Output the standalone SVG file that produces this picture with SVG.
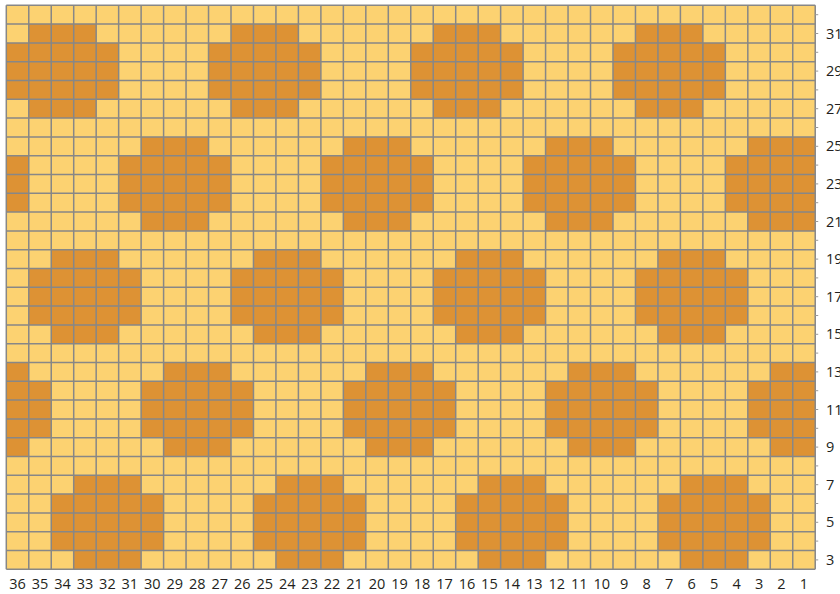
<svg xmlns="http://www.w3.org/2000/svg" xmlns:xlink="http://www.w3.org/1999/xlink" width="840" height="594" viewBox="0 0 840 594">
<style>
.light{fill:#FCD271}
.dark{fill:#DD9234}
.grid{fill:none;stroke:#878787;stroke-width:1.5}
.tick{fill:none;stroke:#9a9a9a;stroke-width:1}
.lbl{font-family:"Open Sans","Liberation Sans",sans-serif;font-size:14.5px;fill:#231F20}
.col{text-anchor:middle}
</style>
<defs>
<path id="m" d="M22.47 0H89.88V18.8H112.35V75.2H89.88V94H22.47V75.2H0V18.8H22.47Z"/>
<clipPath id="gc"><rect x="6.3" y="5.3" width="808.92" height="564"/></clipPath>
</defs>
<rect width="840" height="594" fill="#FFFFFF"/>
<g id="chart">
<rect class="light" x="6.3" y="5.3" width="808.92" height="564"/>
<g id="motifs" class="dark" clip-path="url(#gc)">
<use href="#m" x="6.3" y="24.1"/>
<use href="#m" x="208.53" y="24.1"/>
<use href="#m" x="410.76" y="24.1"/>
<use href="#m" x="612.99" y="24.1"/>
<use href="#m" x="-83.58" y="136.9"/>
<use href="#m" x="118.65" y="136.9"/>
<use href="#m" x="320.88" y="136.9"/>
<use href="#m" x="523.11" y="136.9"/>
<use href="#m" x="725.34" y="136.9"/>
<use href="#m" x="28.77" y="249.7"/>
<use href="#m" x="231" y="249.7"/>
<use href="#m" x="433.23" y="249.7"/>
<use href="#m" x="635.46" y="249.7"/>
<use href="#m" x="-61.11" y="362.5"/>
<use href="#m" x="141.12" y="362.5"/>
<use href="#m" x="343.35" y="362.5"/>
<use href="#m" x="545.58" y="362.5"/>
<use href="#m" x="747.81" y="362.5"/>
<use href="#m" x="51.24" y="475.3"/>
<use href="#m" x="253.47" y="475.3"/>
<use href="#m" x="455.7" y="475.3"/>
<use href="#m" x="657.93" y="475.3"/>
</g>
<path id="hlines" class="grid" d="M6.3 5.3H815.22M6.3 24.1H815.22M6.3 42.9H815.22M6.3 61.7H815.22M6.3 80.5H815.22M6.3 99.3H815.22M6.3 118.1H815.22M6.3 136.9H815.22M6.3 155.7H815.22M6.3 174.5H815.22M6.3 193.3H815.22M6.3 212.1H815.22M6.3 230.9H815.22M6.3 249.7H815.22M6.3 268.5H815.22M6.3 287.3H815.22M6.3 306.1H815.22M6.3 324.9H815.22M6.3 343.7H815.22M6.3 362.5H815.22M6.3 381.3H815.22M6.3 400.1H815.22M6.3 418.9H815.22M6.3 437.7H815.22M6.3 456.5H815.22M6.3 475.3H815.22M6.3 494.1H815.22M6.3 512.9H815.22M6.3 531.7H815.22M6.3 550.5H815.22M6.3 569.3H815.22"/>
<path id="vlines" class="grid" d="M6.3 5.3V569.3M28.77 5.3V569.3M51.24 5.3V569.3M73.71 5.3V569.3M96.18 5.3V569.3M118.65 5.3V569.3M141.12 5.3V569.3M163.59 5.3V569.3M186.06 5.3V569.3M208.53 5.3V569.3M231 5.3V569.3M253.47 5.3V569.3M275.94 5.3V569.3M298.41 5.3V569.3M320.88 5.3V569.3M343.35 5.3V569.3M365.82 5.3V569.3M388.29 5.3V569.3M410.76 5.3V569.3M433.23 5.3V569.3M455.7 5.3V569.3M478.17 5.3V569.3M500.64 5.3V569.3M523.11 5.3V569.3M545.58 5.3V569.3M568.05 5.3V569.3M590.52 5.3V569.3M612.99 5.3V569.3M635.46 5.3V569.3M657.93 5.3V569.3M680.4 5.3V569.3M702.87 5.3V569.3M725.34 5.3V569.3M747.81 5.3V569.3M770.28 5.3V569.3M792.75 5.3V569.3M815.22 5.3V569.3"/>
<path id="ticks" class="tick" d="M815.22 14.7h3M815.22 33.5h3M815.22 52.3h3M815.22 71.1h3M815.22 89.9h3M815.22 108.7h3M815.22 127.5h3M815.22 146.3h3M815.22 165.1h3M815.22 183.9h3M815.22 202.7h3M815.22 221.5h3M815.22 240.3h3M815.22 259.1h3M815.22 277.9h3M815.22 296.7h3M815.22 315.5h3M815.22 334.3h3M815.22 353.1h3M815.22 371.9h3M815.22 390.7h3M815.22 409.5h3M815.22 428.3h3M815.22 447.1h3M815.22 465.9h3M815.22 484.7h3M815.22 503.5h3M815.22 522.3h3M815.22 541.1h3M815.22 559.9h3"/>
</g>
<g id="row-labels" class="lbl">
<text x="826" y="38.5">31</text>
<text x="826" y="76.1">29</text>
<text x="826" y="113.7">27</text>
<text x="826" y="151.3">25</text>
<text x="826" y="188.9">23</text>
<text x="826" y="226.5">21</text>
<text x="826" y="264.1">19</text>
<text x="826" y="301.7">17</text>
<text x="826" y="339.3">15</text>
<text x="826" y="376.9">13</text>
<text x="826" y="414.5">11</text>
<text x="826" y="452.1">9</text>
<text x="826" y="489.7">7</text>
<text x="826" y="527.3">5</text>
<text x="826" y="564.9">3</text>
</g>
<g id="col-labels" class="lbl col">
<text x="17.54" y="589">36</text>
<text x="40.01" y="589">35</text>
<text x="62.48" y="589">34</text>
<text x="84.95" y="589">33</text>
<text x="107.42" y="589">32</text>
<text x="129.89" y="589">31</text>
<text x="152.36" y="589">30</text>
<text x="174.83" y="589">29</text>
<text x="197.3" y="589">28</text>
<text x="219.77" y="589">27</text>
<text x="242.24" y="589">26</text>
<text x="264.71" y="589">25</text>
<text x="287.18" y="589">24</text>
<text x="309.65" y="589">23</text>
<text x="332.12" y="589">22</text>
<text x="354.59" y="589">21</text>
<text x="377.06" y="589">20</text>
<text x="399.53" y="589">19</text>
<text x="422" y="589">18</text>
<text x="444.47" y="589">17</text>
<text x="466.94" y="589">16</text>
<text x="489.41" y="589">15</text>
<text x="511.88" y="589">14</text>
<text x="534.35" y="589">13</text>
<text x="556.82" y="589">12</text>
<text x="579.29" y="589">11</text>
<text x="601.76" y="589">10</text>
<text x="624.23" y="589">9</text>
<text x="646.7" y="589">8</text>
<text x="669.17" y="589">7</text>
<text x="691.64" y="589">6</text>
<text x="714.11" y="589">5</text>
<text x="736.58" y="589">4</text>
<text x="759.05" y="589">3</text>
<text x="781.52" y="589">2</text>
<text x="803.99" y="589">1</text>
</g>
</svg>
